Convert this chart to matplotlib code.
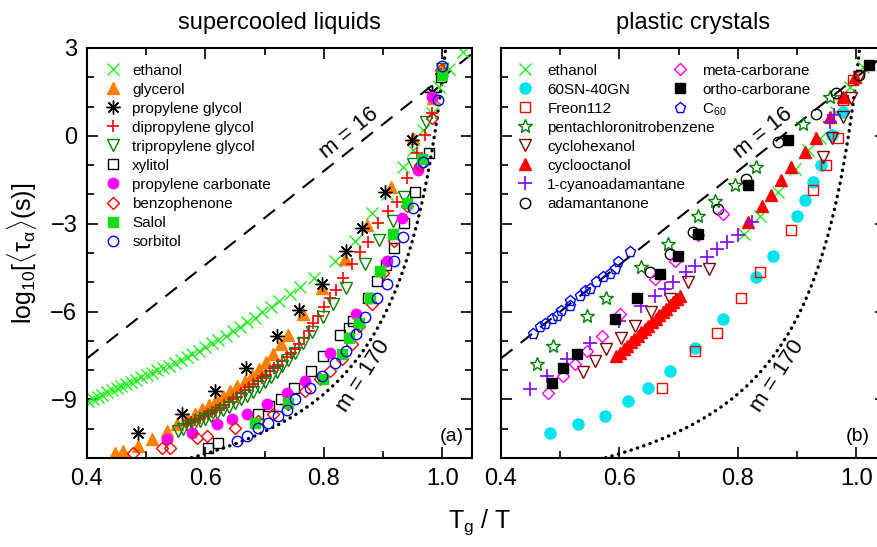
import numpy as np
import matplotlib
matplotlib.use("Agg")
import matplotlib.pyplot as plt
from matplotlib.ticker import MultipleLocator

plt.rcParams['font.family'] = ['Liberation Sans Narrow', 'Liberation Sans', 'DejaVu Sans']
plt.rcParams['mathtext.fontset'] = 'custom'
plt.rcParams['mathtext.rm'] = 'Liberation Sans'
plt.rcParams['mathtext.it'] = 'Liberation Sans'

# ---- panel (a): supercooled liquids ----
ethanol_a_x = [0.402, 0.410, 0.418, 0.426, 0.434, 0.442, 0.450, 0.458, 0.466, 0.474, 0.483, 0.492,
               0.501, 0.510, 0.519, 0.528, 0.538, 0.548, 0.558, 0.568, 0.578, 0.589, 0.600, 0.611,
               0.622, 0.634, 0.646, 0.658, 0.670, 0.683, 0.696, 0.710, 0.725, 0.742, 0.760, 0.784,
               0.818, 0.852, 0.882, 0.906, 0.933, 0.950, 0.967, 0.982, 0.995, 1.012, 1.035]
ethanol_a_y = [-9.05, -8.98, -8.91, -8.84, -8.76, -8.69, -8.62, -8.55, -8.48, -8.41, -8.33, -8.25,
               -8.17, -8.09, -8.01, -7.93, -7.85, -7.76, -7.67, -7.56, -7.45, -7.33, -7.21, -7.09,
               -6.96, -6.82, -6.67, -6.52, -6.37, -6.21, -6.03, -5.84, -5.64, -5.41, -5.17, -4.84,
               -4.27, -3.58, -2.65, -1.97, -1.07, -0.49, 0.19, 0.77, 1.66, 2.30, 2.85]
glycerol_x = [0.447, 0.461, 0.486, 0.510, 0.535, 0.552, 0.568, 0.582, 0.594, 0.606, 0.618, 0.630,
              0.642, 0.654, 0.666, 0.678, 0.690, 0.702, 0.714, 0.728, 0.740, 0.764, 0.796, 0.835,
              0.872, 0.914, 0.950, 0.985, 1.000]
glycerol_y = [-10.84, -10.77, -10.60, -10.36, -10.08, -9.85, -9.68, -9.50, -9.33, -9.18, -9.02, -8.88,
              -8.72, -8.55, -8.36, -8.16, -7.95, -7.72, -7.46, -7.12, -6.80, -6.08, -5.18, -4.19,
              -3.06, -1.76, -0.08, 1.30, 2.25]
pg_x = [0.486, 0.560, 0.616, 0.668, 0.720, 0.758, 0.796, 0.838, 0.865, 0.903, 0.948, 0.982]
pg_y = [-10.15, -9.50, -8.71, -7.92, -6.83, -5.93, -5.05, -3.92, -3.16, -1.93, -0.15, 1.50]
dpg_x = [0.569, 0.576, 0.583, 0.590, 0.597, 0.604, 0.611, 0.618, 0.625, 0.632, 0.639, 0.646,
         0.653, 0.660, 0.667, 0.674, 0.681, 0.688, 0.695, 0.702, 0.709, 0.716, 0.723, 0.730,
         0.737, 0.744, 0.751, 0.758, 0.766, 0.774, 0.782, 0.790, 0.800, 0.810, 0.820, 0.832,
         0.847, 0.861, 0.874, 0.891, 0.908, 0.923, 0.940, 0.957, 0.970, 0.982, 0.997]
dpg_y = [-9.84, -9.77, -9.70, -9.63, -9.56, -9.50, -9.43, -9.36, -9.29, -9.20, -9.10, -9.00,
         -8.90, -8.79, -8.68, -8.58, -8.47, -8.36, -8.26, -8.15, -8.04, -7.93, -7.81, -7.68,
         -7.55, -7.41, -7.27, -7.12, -6.90, -6.65, -6.40, -6.15, -5.85, -5.55, -5.25, -4.85,
         -4.36, -3.98, -3.64, -2.96, -2.55, -2.27, -1.45, -0.60, 0.02, 0.77, 2.10]
tpg_x = [0.553, 0.562, 0.571, 0.580, 0.590, 0.600, 0.610, 0.620, 0.630, 0.640, 0.650, 0.660,
         0.670, 0.680, 0.690, 0.700, 0.710, 0.720, 0.730, 0.740, 0.752, 0.765, 0.780, 0.798,
         0.815, 0.838, 0.869, 0.893, 0.916, 0.935, 0.950, 0.973, 1.000]
tpg_y = [-10.08, -10.00, -9.92, -9.84, -9.75, -9.66, -9.56, -9.46, -9.36, -9.25, -9.13, -9.00,
         -8.87, -8.73, -8.58, -8.42, -8.25, -8.07, -7.87, -7.66, -7.40, -7.08, -6.70, -6.20,
         -5.73, -5.18, -4.36, -3.55, -2.90, -2.10, -0.95, 0.46, 2.30]
xylitol_x = [0.604, 0.621, 0.688, 0.708, 0.728, 0.750, 0.779, 0.798, 0.827, 0.843, 0.849, 0.874,
             0.889, 0.905, 0.919, 0.936, 0.953, 0.978, 0.998]
xylitol_y = [-10.67, -10.50, -9.50, -9.22, -8.98, -8.60, -8.03, -7.50, -6.80, -6.55, -6.32, -5.53,
             -4.95, -4.40, -3.82, -2.96, -1.93, -0.60, 2.00]
pc_x = [0.535, 0.577, 0.619, 0.645, 0.670, 0.704, 0.737, 0.768, 0.810, 0.855, 0.906, 0.931, 0.958, 0.983]
pc_y = [-10.36, -10.15, -9.84, -9.67, -9.50, -9.16, -8.78, -8.37, -7.41, -6.08, -4.26, -2.82, -1.18, 1.32]
benzo_x = [0.478, 0.526, 0.540, 0.585, 0.602, 0.650, 0.688, 0.714, 0.739, 0.768, 0.793, 0.810,
           0.830, 0.847, 0.860, 0.882, 0.900, 0.919, 0.940, 0.962, 0.983, 0.998]
benzo_y = [-10.84, -10.67, -10.67, -10.32, -10.25, -9.98, -9.74, -9.50, -9.16, -8.71, -8.30, -8.03,
           -7.62, -7.10, -6.49, -5.73, -4.67, -3.58, -2.38, -1.00, 0.60, 2.25]
salol_x = [0.683, 0.739, 0.798, 0.830, 0.843, 0.860, 0.877, 0.894, 0.916, 0.940, 0.965, 1.000]
salol_y = [-9.80, -9.12, -8.30, -7.45, -6.90, -6.40, -5.53, -4.60, -3.34, -2.30, -0.80, 2.08]
sorbitol_x = [0.653, 0.670, 0.688, 0.705, 0.722, 0.738, 0.752, 0.776, 0.796, 0.818, 0.838, 0.855,
              0.869, 0.889, 0.906, 0.919, 0.933, 0.950, 0.967, 0.992, 1.000]
sorbitol_y = [-10.42, -10.25, -9.98, -9.80, -9.57, -9.35, -9.00, -8.60, -8.20, -7.75, -7.34, -6.76,
              -6.20, -5.53, -5.05, -4.26, -3.47, -2.48, -0.90, 1.22, 2.40]

# ---- panel (b): plastic crystals ----
ethanol_b_x = [0.811, 0.837, 0.868, 0.896, 0.918, 0.938, 0.965, 0.989, 1.011]
ethanol_b_y = [-3.35, -2.72, -1.92, -1.12, -0.49, -0.09, 0.80, 1.67, 2.36]
sngn_x = [0.483, 0.530, 0.575, 0.615, 0.648, 0.685, 0.727, 0.775, 0.831, 0.859, 0.899, 0.913,
          0.927, 0.941, 0.958, 0.977]
sngn_y = [-10.15, -9.85, -9.57, -9.05, -8.60, -8.03, -7.23, -6.26, -4.83, -4.09, -2.72, -2.20,
          -1.58, -1.00, 0.02, 0.82]
freon_x = [0.671, 0.727, 0.764, 0.806, 0.837, 0.890, 0.927, 0.949, 0.969, 0.977, 0.995]
freon_y = [-8.60, -7.34, -6.72, -5.52, -4.66, -3.23, -1.86, -1.00, -0.09, 1.22, 1.90]
pcnb_x = [0.460, 0.488, 0.545, 0.578, 0.637, 0.682, 0.733, 0.762, 0.795, 0.831, 0.910, 0.955]
pcnb_y = [-7.80, -7.17, -6.14, -5.52, -4.49, -3.69, -2.72, -2.23, -1.69, -1.06, 0.42, 1.33]
chex_x = [0.539, 0.558, 0.578, 0.603, 0.626, 0.654, 0.685, 0.715, 0.752, 0.944, 0.958, 0.977, 0.991, 1.005]
chex_y = [-8.08, -7.68, -7.28, -6.89, -6.49, -6.03, -5.57, -5.00, -4.55, -0.72, -0.09, 0.65, 1.28, 2.02]
coct_x = [0.595, 0.601, 0.607, 0.613, 0.619, 0.625, 0.631, 0.637, 0.643, 0.649, 0.655, 0.661,
          0.667, 0.673, 0.679, 0.685, 0.691, 0.697, 0.702, 0.817, 0.840, 0.856, 0.873, 0.890,
          0.913, 0.932, 0.955, 0.977, 0.997]
coct_y = [-7.51, -7.40, -7.28, -7.17, -7.05, -6.94, -6.82, -6.71, -6.59, -6.48, -6.36, -6.25,
          -6.13, -6.02, -5.90, -5.79, -5.67, -5.56, -5.46, -2.95, -2.38, -2.03, -1.52, -1.06,
          -0.55, -0.09, 0.65, 1.33, 2.02]
cyano_x = [0.449, 0.477, 0.511, 0.550, 0.600, 0.637, 0.660, 0.677, 0.690, 0.713, 0.727, 0.747,
           0.764, 0.781, 0.800, 0.823, 0.955, 0.963]
cyano_y = [-8.65, -8.20, -7.63, -7.06, -6.32, -5.80, -5.46, -5.23, -5.00, -4.66, -4.43, -4.15,
           -3.86, -3.63, -3.40, -2.95, 0.48, 0.71]
adam_x = [0.651, 0.685, 0.724, 0.766, 0.814, 0.868, 0.932, 0.966, 1.005]
adam_y = [-4.66, -4.03, -3.29, -2.49, -1.46, -0.21, 0.76, 1.45, 2.08]
meta_x = [0.480, 0.505, 0.525, 0.545, 0.570, 0.601, 0.660, 0.693, 0.733, 0.775]
meta_y = [-8.77, -8.20, -7.80, -7.34, -6.83, -6.09, -4.89, -4.26, -3.40, -2.66]
ortho_x = [0.486, 0.505, 0.528, 0.592, 0.629, 0.668, 0.699, 0.733, 0.817, 0.884, 1.022]
ortho_y = [-8.43, -7.91, -7.46, -6.26, -5.52, -4.72, -4.09, -3.35, -1.69, -0.15, 2.42]
c60_x = [0.454, 0.466, 0.474, 0.486, 0.494, 0.502, 0.516, 0.516, 0.533, 0.542, 0.550, 0.561,
         0.573, 0.584, 0.592, 0.598, 0.618]
c60_y = [-6.77, -6.54, -6.43, -6.26, -6.14, -5.97, -5.80, -5.63, -5.46, -5.29, -5.23, -5.00,
         -4.83, -4.72, -4.54, -4.32, -3.98]

# fragility reference curves: log tau = A + D(1-t0)x/(1-t0 x), t0 = 1 - D/m
m_values = [16, 170]
log_tau0 = [-14.0, -12.5]
log_tau_g = 2.0

# series tables (name, x, y, style key)
series_a = [
    ("ethanol", ethanol_a_x, ethanol_a_y, "ethanol"),
    ("glycerol", glycerol_x, glycerol_y, "glycerol"),
    ("propylene glycol", pg_x, pg_y, "pg"),
    ("dipropylene glycol", dpg_x, dpg_y, "dpg"),
    ("tripropylene glycol", tpg_x, tpg_y, "tpg"),
    ("xylitol", xylitol_x, xylitol_y, "xylitol"),
    ("propylene carbonate", pc_x, pc_y, "pc"),
    ("benzophenone", benzo_x, benzo_y, "benzo"),
    ("Salol", salol_x, salol_y, "salol"),
    ("sorbitol", sorbitol_x, sorbitol_y, "sorbitol"),
]
series_b = [
    ("ethanol", ethanol_b_x, ethanol_b_y, "ethanol"),
    ("60SN-40GN", sngn_x, sngn_y, "sngn"),
    ("Freon112", freon_x, freon_y, "freon"),
    ("pentachloronitrobenzene", pcnb_x, pcnb_y, "pcnb"),
    ("cyclohexanol", chex_x, chex_y, "chex"),
    ("cyclooctanol", coct_x, coct_y, "coct"),
    ("1-cyanoadamantane", cyano_x, cyano_y, "cyano"),
    ("adamantanone", adam_x, adam_y, "adam"),
    ("meta-carborane", meta_x, meta_y, "meta"),
    ("ortho-carborane", ortho_x, ortho_y, "ortho"),
    ("C$_{60}$", c60_x, c60_y, "c60"),
]

styles = {
    "ethanol": dict(marker="x", ms=8, mew=1.0, color="#22ee22"),
    "glycerol": dict(marker="^", ms=8, color="#ff8000", mec="#ff8000"),
    "pg": dict(marker=(8, 2, 0), ms=10, mew=1.0, color="black"),
    "dpg": dict(marker="+", ms=9, mew=1.2, color="#ff0000"),
    "tpg": dict(marker="v", ms=8, mew=1.0, color="#008000", mfc="none"),
    "xylitol": dict(marker="s", ms=6.5, mew=1.0, color="black", mfc="none"),
    "pc": dict(marker="o", ms=7.5, color="#ff00ff", mec="#ff00ff"),
    "benzo": dict(marker="D", ms=6.5, mew=1.0, color="#ff0000", mfc="none"),
    "salol": dict(marker="s", ms=6.5, color="#11dd11", mec="#11dd11"),
    "sorbitol": dict(marker="o", ms=7.5, mew=1.0, color="#0000ff", mfc="none"),
    "sngn": dict(marker="o", ms=8, color="#00e5ee", mec="#00e5ee"),
    "freon": dict(marker="s", ms=6.5, mew=1.0, color="#ff0000", mfc="none"),
    "pcnb": dict(marker="*", ms=10, mew=1.0, color="#008000", mfc="none"),
    "chex": dict(marker="v", ms=8.5, mew=1.0, color="#800000", mfc="none"),
    "coct": dict(marker="^", ms=9, color="#ff0000", mec="#ff0000"),
    "cyano": dict(marker="+", ms=10, mew=1.2, color="#8000ff"),
    "adam": dict(marker="o", ms=7.5, mew=1.0, color="black", mfc="none"),
    "meta": dict(marker="D", ms=6.5, mew=1.0, color="#ff00ff", mfc="none"),
    "ortho": dict(marker="s", ms=6.5, color="black"),
    "c60": dict(marker="p", ms=8, mew=1.0, color="#0000ff", mfc="none"),
}

W, H = 878, 547
fig = plt.figure(figsize=(W / 100, H / 100), dpi=100)
ax_a = fig.add_axes([87 / W, 1 - 458 / H, 385 / W, 410 / H])
ax_b = fig.add_axes([501 / W, 1 - 458 / H, 385 / W, 410 / H])


def draw_reference(ax):
    x = np.linspace(0.4, 1.06, 400)
    for m, a in zip(m_values, log_tau0):
        d = log_tau_g - a
        t0 = 1 - d / m
        y = a + d * (1 - t0) * x / (1 - t0 * x)
        if m < 50:
            ax.plot(x, y, color="black", lw=1.5, ls=(0, (7, 5)), zorder=1)
        else:
            ax.plot(x, y, color="black", lw=2.4, ls=(0, (0.1, 1.9)), dash_capstyle="round", zorder=1)
    ax.text(0.842, 0.1, "m = 16", rotation=39, fontsize=16, ha="center", va="center")
    ax.text(0.867, -8.2, "m = 170", rotation=57, fontsize=16, ha="center", va="center")


def style_axes(ax, title, tag, tagx):
    ax.set_xlim(0.4, 1.05)
    ax.set_ylim(-11, 3)
    ax.xaxis.set_major_locator(MultipleLocator(0.2))
    ax.xaxis.set_minor_locator(MultipleLocator(0.1))
    ax.yaxis.set_major_locator(MultipleLocator(3))
    ax.yaxis.set_minor_locator(MultipleLocator(1))
    ax.tick_params(which="both", direction="in", top=True, right=True, width=1.2, labelsize=17)
    ax.tick_params(which="major", length=8, pad=7)
    ax.tick_params(which="minor", length=5)
    ax.xaxis.set_major_formatter(matplotlib.ticker.FormatStrFormatter("%.1f"))
    for s in ax.spines.values():
        s.set_linewidth(1.5)
    ax.set_title(title, fontsize=17, pad=14)
    ax.text(tagx, -10.25, tag, fontsize=14, ha="center", va="center", family="Liberation Sans")


draw_reference(ax_a)
draw_reference(ax_b)

handles_a = []
for name, xs, ys, key in series_a:
    h, = ax_a.plot(xs, ys, ls="none", label=name, **styles[key])
    handles_a.append(h)
handles_b = []
for name, xs, ys, key in series_b:
    h, = ax_b.plot(xs, ys, ls="none", label=name, **styles[key])
    handles_b.append(h)

style_axes(ax_a, "supercooled liquids", "(a)", 1.016)
style_axes(ax_b, "plastic crystals", "(b)", 1.002)
ax_b.set_yticklabels([])

leg_kw = dict(frameon=False, loc="upper left", borderpad=0, borderaxespad=0, handlelength=1.0,
              labelspacing=0.33, prop={"family": "Liberation Sans", "size": 11})
ax_a.legend(handles=handles_a, bbox_to_anchor=(0.048, 0.962), handletextpad=0.75, **leg_kw)
leg1 = ax_b.legend(handles=handles_b[:8], bbox_to_anchor=(0.043, 0.962), handletextpad=0.95, **leg_kw)
ax_b.add_artist(leg1)
ax_b.legend(handles=handles_b[8:], bbox_to_anchor=(0.445, 0.962), handletextpad=0.95, **leg_kw)

fig.text(22 / W, 1 - 253 / H, r"log$_{10}$[$\langle\tau_\alpha\rangle$(s)]", rotation=90,
         fontsize=18, ha="center", va="center")
fig.text(480 / W, 1 - 522 / H, r"T$_\mathregular{g}$ / T", fontsize=18, ha="center", va="center")

fig.savefig("out.png", dpi=100)
